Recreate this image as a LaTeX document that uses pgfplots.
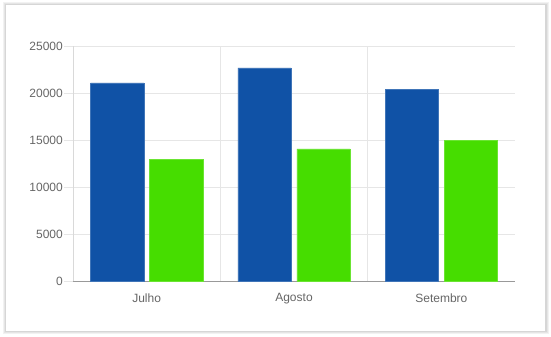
\documentclass[border=0pt]{standalone}
\usepackage{pgfplots}
\pgfplotsset{compat=1.18}
\usepackage{fontspec}
\setmainfont{Liberation Sans}
\definecolor{barblue}{HTML}{1052A6}
\definecolor{bargreen}{HTML}{46DD00}
\definecolor{gridgray}{HTML}{E6E6E6}
\definecolor{txtgray}{HTML}{666666}
\begin{document}
\fontsize{12}{14}\selectfont
\begin{tikzpicture}[x=1pt,y=1pt]
\path[use as bounding box] (0,0) rectangle (551,337);
\fill[black!5] (2.5,2.5) rectangle (548.5,334.5);
\fill[black!10] (3.5,3.5) rectangle (547.5,333.5);
\fill[black!16] (4.5,4.8) rectangle (546.5,332.5);
\fill[white] (5.5,6) rectangle (545,331.5);
\begin{axis}[
  at={(73pt,55.7pt)}, anchor=south west,
  scale only axis, width=442pt, height=235pt,
  xmin=-0.5, xmax=2.5, ymin=0, ymax=25000,
  axis x line*=bottom, axis y line*=left,
  x axis line style={color=black!40,-},
  y axis line style={color=black!15,-},
  xtick={0,1,2}, xticklabels={Julho,Agosto,Setembro},
  xtick style={draw=none},
  minor xtick={-0.5,0.5,1.5},
  xminorgrids, minor grid style={color=gridgray},
  minor x tick style={color=gridgray},
  minor tick length=9.5pt,
  ytick={0,5000,10000,15000,20000,25000},
  ymajorgrids, major grid style={color=gridgray},
  ytick style={color=gridgray},
  major tick length=9pt, tick align=outside,
  scaled y ticks=false,
  /pgf/number format/1000 sep={},
  /pgf/number format/assume math mode=true,
  ticklabel style={font=\fontsize{12}{14}\selectfont, text=txtgray},
  yticklabel style={inner sep=1pt},
  xticklabel style={yshift=1pt},
  clip=false,
]
\addplot[ybar, bar width=53.3pt, bar shift=-29.5pt, fill=barblue, draw=barblue!80!white]
  coordinates {(0,21100) (1,22700) (2,20400)};
\addplot[ybar, bar width=53.3pt, bar shift=29.5pt, fill=bargreen, draw=bargreen!80!white]
  coordinates {(0,13000) (1,14100) (2,15000)};
\end{axis}
\end{tikzpicture}
\end{document}
